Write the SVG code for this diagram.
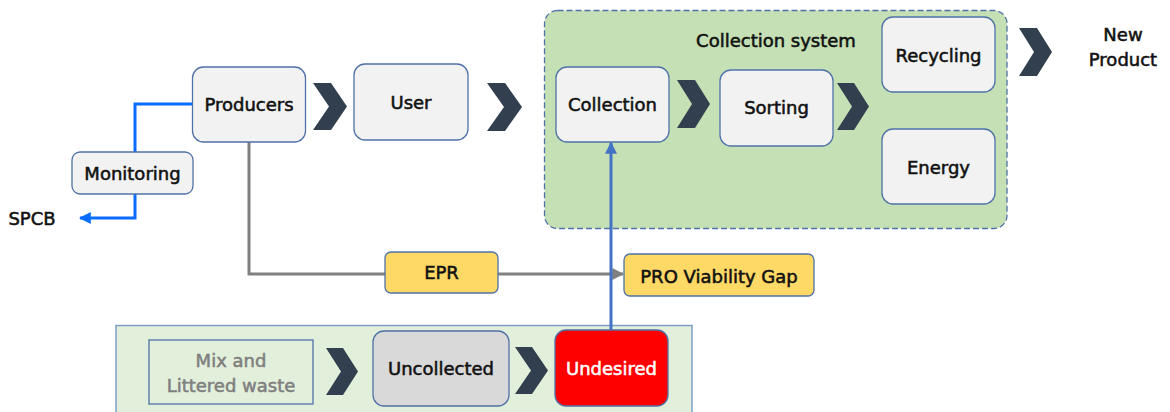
<svg xmlns="http://www.w3.org/2000/svg" width="1170" height="412" viewBox="0 0 1170 412">
<style>
text{font-family:"DejaVu Sans",sans-serif;font-size:18px;fill:#111;stroke:#111;stroke-width:0.55;text-anchor:middle}
.gtxt{fill:#808080;stroke:#808080}
.wtxt{fill:#fff;stroke:#fff}
.node{fill:#F2F2F2;stroke:#4F72A8;stroke-width:1.3}
.yel{fill:#FFD966;stroke:#4F72A8;stroke-width:1.3}
.chev{fill:#323F4F}
.blue{fill:none;stroke:#0A6CFF;stroke-width:3}
.gray{fill:none;stroke:#808080;stroke-width:3}
.vblue{fill:none;stroke:#4472C4;stroke-width:3}
</style>
<defs>
<marker id="ab" viewBox="0 0 10 10" refX="9" refY="5" markerWidth="4" markerHeight="4" orient="auto" markerUnits="strokeWidth"><path d="M0,0L10,5L0,10z" fill="#0A6CFF"/></marker>
<marker id="ag" viewBox="0 0 10 10" refX="9" refY="5" markerWidth="4" markerHeight="4" orient="auto" markerUnits="strokeWidth"><path d="M0,0L10,5L0,10z" fill="#808080"/></marker>
<marker id="av" viewBox="0 0 10 10" refX="9" refY="5" markerWidth="4" markerHeight="4" orient="auto" markerUnits="strokeWidth"><path d="M0,0L10,5L0,10z" fill="#4472C4"/></marker>
</defs>

<g id="collection-system">
<rect x="544.5" y="10.5" width="462.5" height="218" rx="13" fill="#C5E0B4" stroke="#4F72A8" stroke-width="1.3" stroke-dasharray="6,3"/>
<text x="776" y="47">Collection system</text>
</g>
<g id="bottom-group">
<rect x="116" y="325.5" width="576" height="100" fill="#E2EFDA" stroke="#7F9FC9" stroke-width="1.5"/>
</g>

<g id="connectors">
<polyline class="blue" points="192,104 135,104 135,152"/>
<polyline class="blue" points="135,194 135,218 80,218" marker-end="url(#ab)"/>
<polyline class="gray" points="249,142 249,274 385,274"/>
<line class="gray" x1="498" y1="274" x2="623" y2="274" marker-end="url(#ag)"/>
<line class="vblue" x1="611" y1="330" x2="611" y2="143" marker-end="url(#av)"/>
</g>

<g id="chevrons">
<polygon class="chev" points="313,83 331,83 347,106.5 331,130 313,130 329,106.5"/>
<polygon class="chev" points="487,83 505,83 522,107 505,131 487,131 504,107"/>
<polygon class="chev" points="677,80 695,80 710,104 695,128 677,128 692,104"/>
<polygon class="chev" points="837,83 854,83 869,106.5 854,130 837,130 852,106.5"/>
<polygon class="chev" points="1019,28 1037,28 1052,52 1037,76 1019,76 1034,52"/>
<polygon class="chev" points="326,348 343,348 358,371.5 343,395 326,395 341,371.5"/>
<polygon class="chev" points="515,347 532,347 548,370.5 532,394 515,394 531,370.5"/>
</g>

<g id="producers"><rect class="node" x="192.5" y="67" width="113" height="75" rx="11"/><text x="249" y="111">Producers</text></g>
<g id="monitoring"><rect class="node" x="72" y="152" width="121" height="42" rx="8"/><text x="132.5" y="180">Monitoring</text></g>
<g id="spcb"><text x="32" y="225">SPCB</text></g>
<g id="user"><rect class="node" x="354" y="64" width="114" height="76" rx="11"/><text x="411" y="109">User</text></g>
<g id="collection"><rect class="node" x="556" y="67" width="113" height="75" rx="11"/><text x="612.5" y="111">Collection</text></g>
<g id="sorting"><rect class="node" x="720" y="70" width="113" height="76" rx="11"/><text x="776.5" y="114">Sorting</text></g>
<g id="recycling"><rect class="node" x="882" y="17" width="113" height="75" rx="11"/><text x="938.5" y="62">Recycling</text></g>
<g id="energy"><rect class="node" x="882" y="129" width="113" height="75" rx="11"/><text x="938.5" y="174">Energy</text></g>
<g id="new-product"><text x="1123" y="41">New</text><text x="1123" y="66">Product</text></g>
<g id="epr"><rect class="yel" x="385" y="252" width="113" height="41" rx="6"/><text x="441.5" y="279">EPR</text></g>
<g id="pro-gap"><rect class="yel" x="624" y="254" width="190" height="42" rx="6"/><text x="719" y="283">PRO Viability Gap</text></g>
<g id="mix"><rect x="149" y="340" width="164" height="64" fill="none" stroke="#4F72A8" stroke-width="1.3"/><text class="gtxt" x="231" y="367">Mix and</text><text class="gtxt" x="231" y="392">Littered waste</text></g>
<g id="uncollected"><rect x="373" y="331" width="136" height="75" rx="11" fill="#D9D9D9" stroke="#4F72A8" stroke-width="1.3"/><text x="441" y="375">Uncollected</text></g>
<g id="undesired"><rect x="555" y="330" width="113" height="76" rx="11" fill="#FF0000" stroke="#4F72A8" stroke-width="1.3"/><text class="wtxt" x="611.5" y="375">Undesired</text></g>
</svg>
